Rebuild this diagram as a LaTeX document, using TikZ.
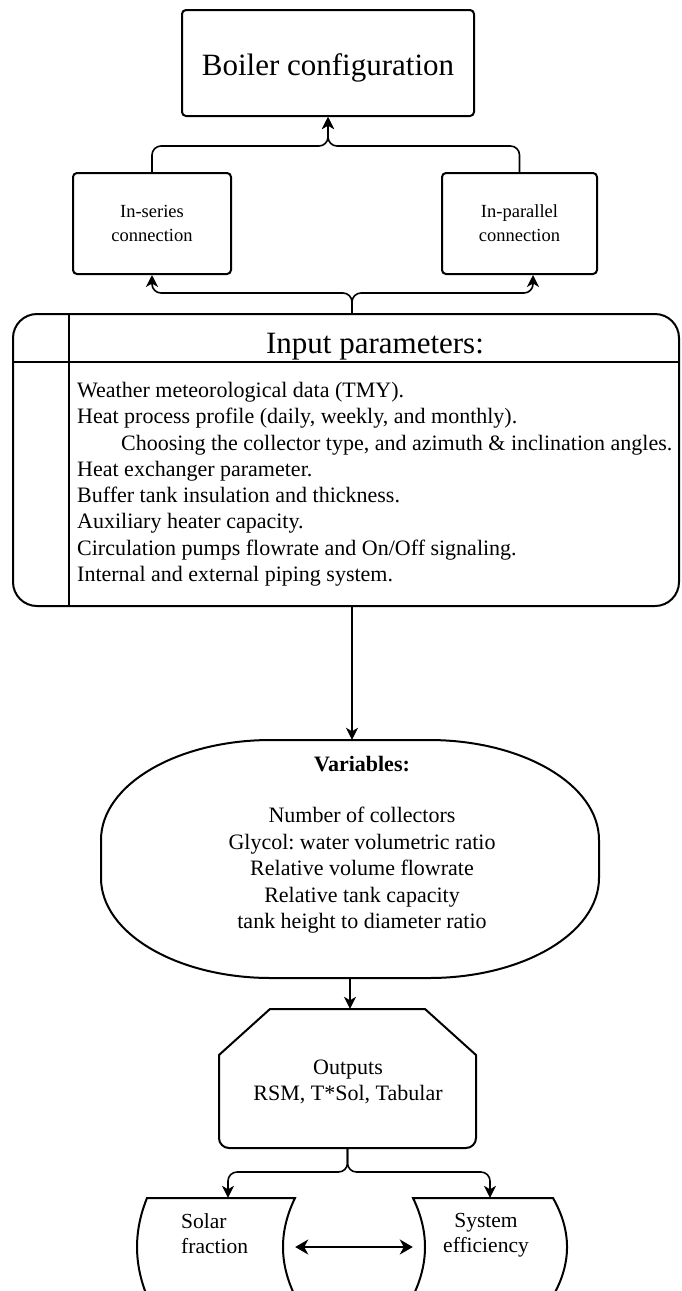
\documentclass[tikz,border=0pt]{standalone}
\usepackage{fontspec}
\setmainfont{Liberation Serif}
\usetikzlibrary{arrows.meta}
\frenchspacing
\begin{document}
\begin{tikzpicture}[x=1pt,y=-1pt,
  box/.style={draw=black, line width=2pt, rounded corners=4pt, inner sep=0pt},
  outline/.style={draw=black, line width=2pt},
  conn/.style={draw=black, line width=1.6pt, rounded corners=9pt},
  arr/.style={-{Stealth[length=12pt,width=12pt,inset=3.5pt]}},
  dblarr/.style={{Stealth[length=13pt,width=15pt,inset=4pt]}-{Stealth[length=13pt,width=15pt,inset=4pt]}},
  bigfont/.style={font=\fontsize{31}{37}\selectfont},
  bodyfont/.style={font=\fontsize{22}{26.3}\selectfont},
  smallfont/.style={font=\fontsize{18.5}{24}\selectfont},
  ghost/.style={inner sep=0pt, draw=none}]
\fill[white] (0,0) rectangle (681,1291);
\useasboundingbox (0,0) rectangle (681,1291);

% top boxes
\node[box, bigfont, minimum width=292pt, minimum height=106pt, text height=24pt, text depth=0pt] (boiler) at (328,63) {Boiler configuration};
\node[box, smallfont, align=center, minimum width=158pt, minimum height=101pt] (series) at (152,223.5) {In-series\\connection};
\node[box, smallfont, align=center, minimum width=155pt, minimum height=101pt] (parallel) at (519.5,223.5) {In-parallel\\connection};

% input parameters box
\node[box, rounded corners=24pt, minimum width=666pt, minimum height=292pt] (inp) at (346,460) {};
\coordinate (hl) at (0,362);
\coordinate (dv) at (69,0);
\draw[outline] (inp.west |- hl) -- (inp.east |- hl);
\draw[outline] (inp.north -| dv) -- (inp.south -| dv);
\node[bigfont, anchor=base] (title) at (375,353) {Input parameters:};
\node[bodyfont, align=left, anchor=north west, inner sep=0pt] (list) at (77,382) {Weather meteorological data (TMY).\\
Heat process profile (daily, weekly, and monthly).\\
\hspace*{44pt}Choosing the collector type, and azimuth \& inclination angles.\\
Heat exchanger parameter.\\
Buffer tank insulation and thickness.\\
Auxiliary heater capacity.\\
Circulation pumps flowrate and On/Off signaling.\\
Internal and external piping system.};

% variables shape
\node[ghost, minimum width=498pt, minimum height=238pt] (var) at (350,859) {};
\draw[outline] (271,740) -- (429,740) .. controls (522.9,740) and (599,784.8) .. (599,840)
  -- (599,878) .. controls (599,933.2) and (522.9,978) .. (429,978)
  -- (271,978) .. controls (177.1,978) and (101,933.2) .. (101,878)
  -- (101,840) .. controls (101,784.8) and (177.1,740) .. (271,740) -- cycle;
\node[align=center, anchor=north, inner sep=0pt, font=\fontsize{22}{26.5}\selectfont] (vartext) at (362,756) {\textbf{Variables:}\\[25pt]Number of collectors\\Glycol: water volumetric ratio\\Relative volume flowrate\\Relative tank capacity\\tank height to diameter ratio};

% outputs shape
\node[ghost, minimum width=257pt, minimum height=139pt] (out) at (347.5,1078.5) {};
\draw[outline] (270,1009) -- (425,1009) -- (476,1055) -- (476,1138)
  .. controls (476,1143.5) and (471.5,1148) .. (466,1148) -- (229,1148)
  .. controls (223.5,1148) and (219,1143.5) .. (219,1138) -- (219,1055) -- cycle;
\node[bodyfont, align=center, anchor=north, inner sep=0pt] (outtext) at (348,1059.5) {Outputs\\RSM, T*Sol, Tabular};

% bottom shapes
\node[ghost, minimum width=158pt, minimum height=98pt] (solar) at (216,1247) {};
\draw[outline] (147,1198) -- (295,1198) .. controls (279,1231) and (279,1263) .. (295,1296)
  -- (147,1296) .. controls (133.7,1263) and (133.7,1231) .. (147,1198) -- cycle;
\node[align=left, anchor=north west, inner sep=0pt, font=\fontsize{21.5}{25}\selectfont] (solartext) at (181,1213.3) {Solar\\fraction};
\node[ghost, minimum width=154pt, minimum height=98pt] (syseff) at (490,1247) {};
\draw[outline] (413,1198) -- (553,1198) .. controls (571.7,1231) and (571.7,1263) .. (553,1296)
  -- (413,1296) .. controls (429,1263) and (429,1231) .. (413,1198) -- cycle;
\node[align=center, anchor=north, inner sep=0pt, font=\fontsize{21.5}{25}\selectfont] (sysefftext) at (486,1213.3) {System\\efficiency};

% connectors
\coordinate (jy) at (0,146);
\draw[conn, arr] (series.north) |- (boiler.south |- jy) -- (boiler.south);
\draw[conn, arr] (parallel.north) |- (boiler.south |- jy) -- (boiler.south);

\coordinate (ib) at ([xshift=6pt]inp.north);
\coordinate (jy2) at (0,293);
\coordinate (pin) at ([xshift=13.5pt]parallel.south);
\draw[conn, arr] (ib) |- (series.south |- jy2) -- (series.south);
\draw[conn, arr] (ib) |- (pin |- jy2) -- (pin);

\coordinate (ob) at ([xshift=6pt]inp.south);
\draw[conn, arr] (ob) -- (ob |- var.north);
\draw[conn, arr] (var.south) -- (var.south |- out.north);

\coordinate (jy3) at (0,1172);
\coordinate (sin) at ([xshift=12pt]solar.north);
\draw[conn, arr] (out.south) |- (sin |- jy3) -- (sin);
\draw[conn, arr] (out.south) |- (syseff.north |- jy3) -- (syseff.north);

\draw[line width=2.8pt, dblarr] (solar.east) -- (syseff.west);
\end{tikzpicture}
\end{document}
